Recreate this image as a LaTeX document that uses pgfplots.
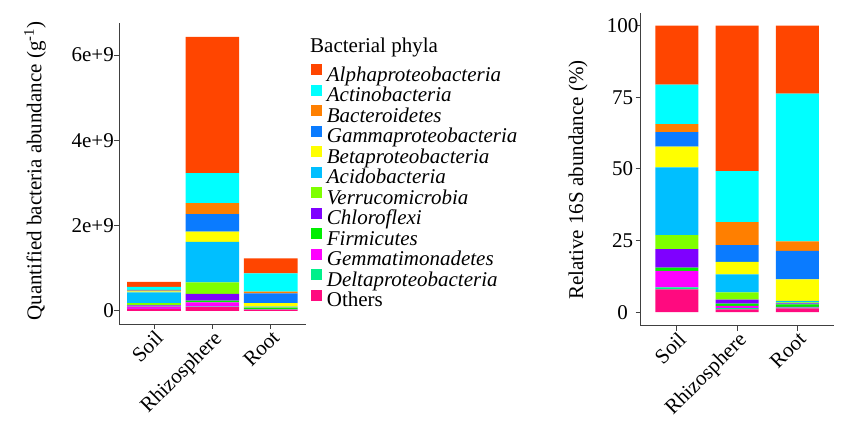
\documentclass[border=0pt]{standalone}
\usepackage{fontspec}
\setmainfont{Liberation Serif}
\usepackage{pgfplots}
\pgfplotsset{compat=1.18}
\definecolor{cAlpha}{HTML}{FF4500}
\definecolor{cActino}{HTML}{00FFFF}
\definecolor{cBact}{HTML}{FF7F00}
\definecolor{cGamma}{HTML}{0A7BFF}
\definecolor{cBeta}{HTML}{FFFF00}
\definecolor{cAcido}{HTML}{00BFFF}
\definecolor{cVerr}{HTML}{7FFF00}
\definecolor{cChlo}{HTML}{7F00FF}
\definecolor{cFirm}{HTML}{00EE00}
\definecolor{cGemm}{HTML}{FF00FF}
\definecolor{cDelta}{HTML}{00F08A}
\definecolor{cOther}{HTML}{FF0A7F}
\newcommand{\bigf}{\fontsize{21bp}{25bp}\selectfont}
\pgfplotsset{
  mystyle/.style={
    scale only axis, ybar stacked,
    axis x line*=bottom, axis y line*=left,
    axis line style={black!75, line width=0.9bp},
    tick style={black!75, line width=0.9bp},
    tick align=outside, major tick length=5bp,
    xmin=0.4, xmax=3.6, xtick={1,2,3}, xticklabels={Soil,Rhizosphere,Root},
    xticklabel style={rotate=45, anchor=north east, inner sep=0pt},
    ticklabel style={font=\bigf},
    label style={font=\bigf},
    minor tick num=0,
    scaled y ticks=false,
  },
  sq/.style={legend image code/.code={\fill[##1] (0bp,2bp) rectangle (10.7bp,12.7bp);}},
}
\begin{document}
\bigf
\begin{tikzpicture}[x=1bp,y=1bp]
\path[use as bounding box] (0,0) rectangle (844,439);
% ---------------- left: absolute abundance
\begin{axis}[mystyle,
  at={(119bp,115bp)}, anchor=south west,
  width=186.7bp, height=301bp,
  bar width=0.92,
  ymin=-0.31e9, ymax=6.75e9,
  ytick={0,2e9,4e9,6e9}, yticklabels={0,2e+9,4e+9,6e+9},
  yticklabel style={anchor=east, inner sep=0pt},
  ylabel={Quantified bacteria abundance (g\textsuperscript{-1})},
  every axis y label/.style={at={(axis description cs:-0.45,0.508)}, rotate=90, anchor=center},
  reverse legend,
  legend style={at={(axis description cs:1.0284,0.863)}, anchor=north west,
    draw=none, fill=none, inner sep=0pt, row sep=-0.85bp,
    nodes={inner sep=0pt, text height=13bp, text depth=4.3bp, font=\bigf},
    /tikz/every odd column/.append style={column sep=5bp}},
  legend cell align=left,
]
\addplot[fill=cOther, draw=none, sq] coordinates {(1,0.040e9) (2,0.087e9) (3,0.025e9)};
\addlegendentry{Others}
\addplot[fill=cDelta, draw=none, sq] coordinates {(1,0.005e9) (2,0.010e9) (3,0.005e9)};
\addlegendentry{\textit{Deltaproteobacteria}}
\addplot[fill=cGemm, draw=none, sq] coordinates {(1,0.050e9) (2,0.100e9) (3,0.010e9)};
\addlegendentry{\textit{Gemmatimonadetes}}
\addplot[fill=cFirm, draw=none, sq] coordinates {(1,0.010e9) (2,0.040e9) (3,0.020e9)};
\addlegendentry{\textit{Firmicutes}}
\addplot[fill=cChlo, draw=none, sq] coordinates {(1,0.020e9) (2,0.160e9) (3,0.010e9)};
\addlegendentry{\textit{Chloroflexi}}
\addplot[fill=cVerr, draw=none, sq] coordinates {(1,0.055e9) (2,0.270e9) (3,0.010e9)};
\addlegendentry{\textit{Verrucomicrobia}}
\addplot[fill=cAcido, draw=none, sq] coordinates {(1,0.250e9) (2,0.950e9) (3,0.020e9)};
\addlegendentry{\textit{Acidobacteria}}
\addplot[fill=cBeta, draw=none, sq] coordinates {(1,0.025e9) (2,0.240e9) (3,0.080e9)};
\addlegendentry{\textit{Betaproteobacteria}}
\addplot[fill=cGamma, draw=none, sq] coordinates {(1,0.020e9) (2,0.410e9) (3,0.230e9)};
\addlegendentry{\textit{Gammaproteobacteria}}
\addplot[fill=cBact, draw=none, sq] coordinates {(1,0.015e9) (2,0.260e9) (3,0.040e9)};
\addlegendentry{\textit{Bacteroidetes}}
\addplot[fill=cActino, draw=none, sq] coordinates {(1,0.070e9) (2,0.700e9) (3,0.430e9)};
\addlegendentry{\textit{Actinobacteria}}
\addplot[fill=cAlpha, draw=none, sq] coordinates {(1,0.120e9) (2,3.200e9) (3,0.350e9)};
\addlegendentry{\textit{Alphaproteobacteria}}
\end{axis}
\node[anchor=base west, inner sep=0pt, font=\bigf] at (310,386) {Bacterial phyla};
% ---------------- right: relative abundance
\begin{axis}[mystyle,
  at={(640.7bp,113.3bp)}, anchor=south west,
  width=192.8bp, height=312.4bp,
  bar width=0.71,
  ymin=-4.7, ymax=104.3,
  ytick={0,25,50,75,100}, yticklabels={0,25,50,75,100},
  yticklabel style={anchor=center, inner sep=0pt, xshift=-13bp},
  ylabel={Relative 16S abundance (\%)},
  every axis y label/.style={at={(axis description cs:-0.325,0.466)}, rotate=90, anchor=center},
]
\addplot[fill=cOther, draw=none] coordinates {(1,8.0) (2,1.0) (3,1.3)};
\addplot[fill=cDelta, draw=none] coordinates {(1,0.7) (2,0.4) (3,0.3)};
\addplot[fill=cGemm, draw=none] coordinates {(1,5.7) (2,0.8) (3,0.3)};
\addplot[fill=cFirm, draw=none] coordinates {(1,1.2) (2,0.8) (3,0.8)};
\addplot[fill=cChlo, draw=none] coordinates {(1,6.4) (2,1.4) (3,0.4)};
\addplot[fill=cVerr, draw=none] coordinates {(1,4.9) (2,2.5) (3,0.3)};
\addplot[fill=cAcido, draw=none] coordinates {(1,23.6) (2,6.3) (3,0.6)};
\addplot[fill=cBeta, draw=none] coordinates {(1,7.3) (2,4.4) (3,7.5)};
\addplot[fill=cGamma, draw=none] coordinates {(1,5.0) (2,5.8) (3,9.9)};
\addplot[fill=cBact, draw=none] coordinates {(1,2.8) (2,8.0) (3,3.3)};
\addplot[fill=cActino, draw=none] coordinates {(1,13.8) (2,17.8) (3,51.6)};
\addplot[fill=cAlpha, draw=none] coordinates {(1,20.6) (2,50.8) (3,23.7)};
\end{axis}
\end{tikzpicture}
\end{document}
